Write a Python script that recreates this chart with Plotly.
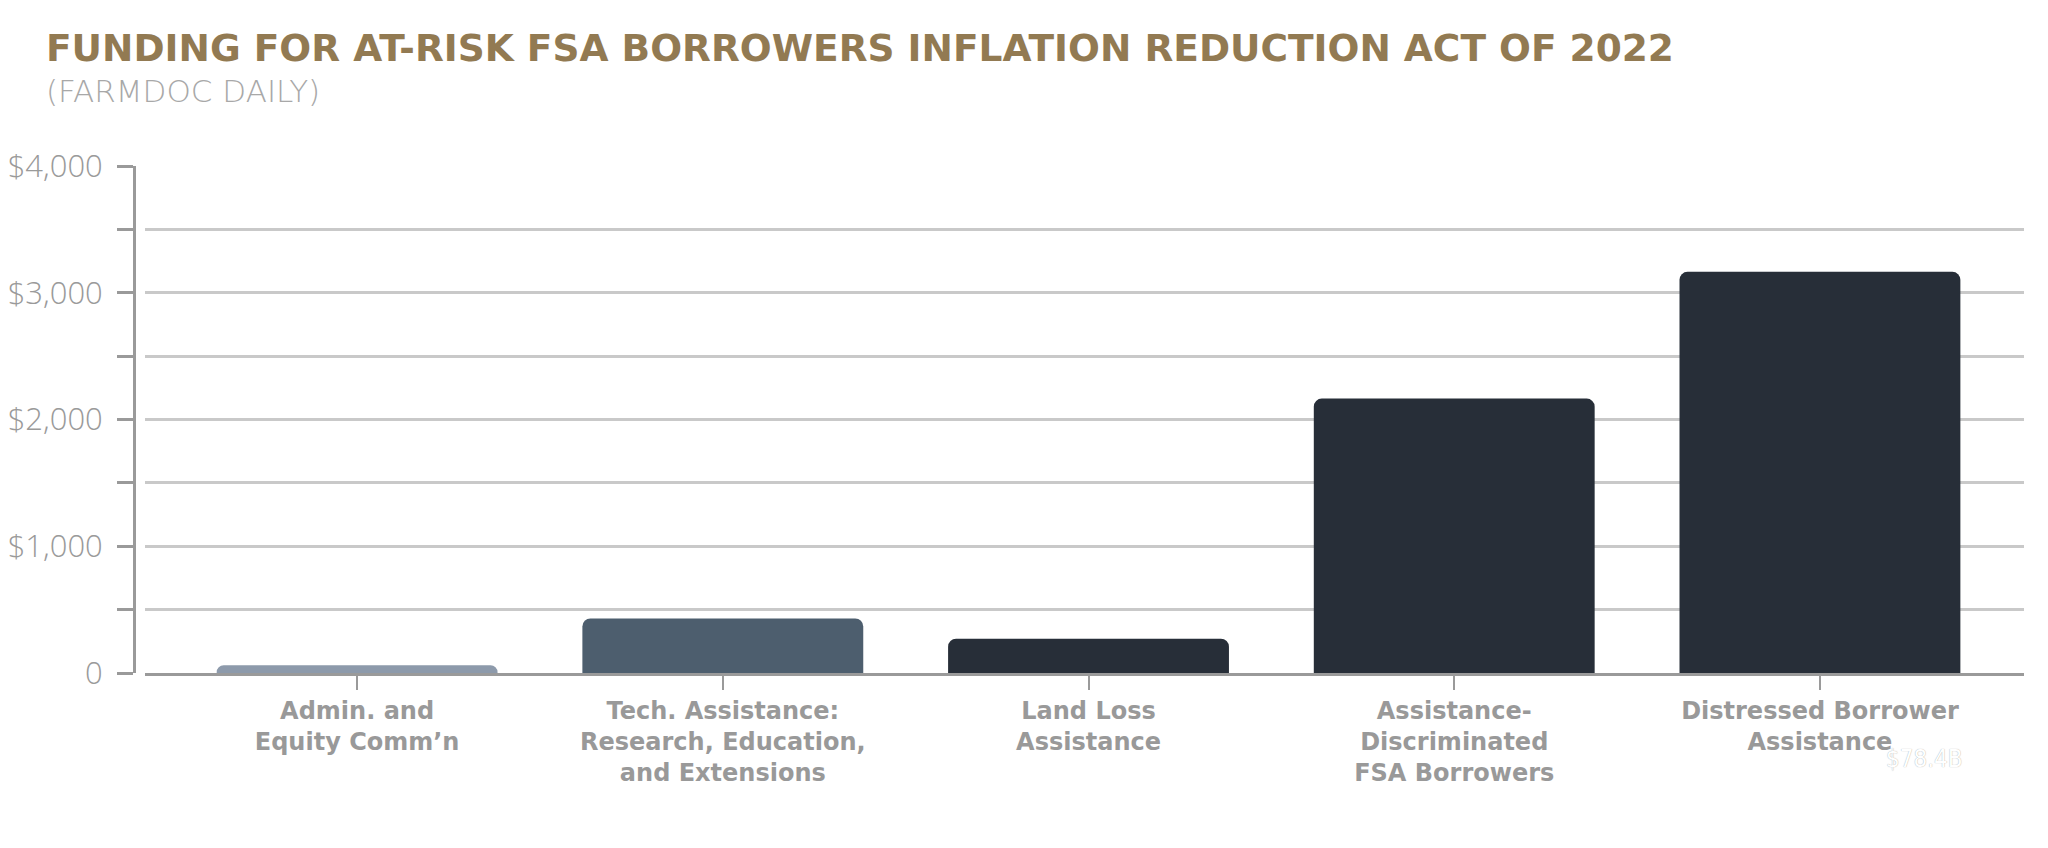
import plotly.graph_objects as go

categories = [
    "Admin. and<br>Equity Comm’n",
    "Tech. Assistance:<br>Research, Education,<br>and Extensions",
    "Land Loss<br>Assistance",
    "Assistance-<br>Discriminated<br>FSA Borrowers",
    "Distressed Borrower<br>Assistance",
]
values = [62, 430, 270, 2165, 3165]
bar_colors = ["#8d9aab", "#4d5e6e", "#272e38", "#272e38", "#272e38"]
y_tickvals = [0, 1000, 2000, 3000, 4000]
y_ticktext = ["0", "$1,000", "$2,000", "$3,000", "$4,000"]

W, H = 2048, 848

fig = go.Figure()
fig.add_trace(go.Bar(
    x=list(range(len(categories))), y=values,
    marker=dict(color=bar_colors, line=dict(width=0)),
    width=0.768, showlegend=False, hoverinfo="skip",
))
fig.add_trace(go.Scatter(
    x=list(range(len(categories))), y=values, yaxis="y2",
    mode="none", showlegend=False, hoverinfo="skip",
))

grey = "#9a9a9a"
fig.update_layout(
    width=W, height=H,
    margin=dict(l=0, r=0, t=0, b=0, autoexpand=False),
    paper_bgcolor="white", plot_bgcolor="white",
    barcornerradius=8,
    xaxis=dict(
        domain=[145 / W, 2024 / W],
        range=[-0.58, 4.558],
        automargin=False,
        tickmode="array",
        tickvals=list(range(len(categories))),
        ticktext=categories,
        showgrid=False, zeroline=False,
        showline=True, linecolor=grey, linewidth=3,
        ticks="outside", ticklen=14, tickwidth=2, tickcolor=grey,
        ticklabelstandoff=0,
        tickfont=dict(family="DejaVu Sans", size=24, color="#999999", weight=700),
    ),
    yaxis=dict(
        domain=[1 - 673 / H, 1 - 166 / H],
        range=[0, 4000],
        automargin=False,
        dtick=500, tick0=0,
        showgrid=True, gridcolor="#c9c9c9", gridwidth=2.5,
        zeroline=False, showline=False, showticklabels=False, ticks="",
    ),
    yaxis2=dict(
        overlaying="y", anchor="free", position=134 / W,
        range=[0, 4000],
        automargin=False,
        tickmode="array", tickvals=y_tickvals, ticktext=y_ticktext,
        showgrid=False, zeroline=False,
        showline=True, linecolor=grey, linewidth=3,
        ticks="outside", ticklen=16, tickwidth=3, tickcolor=grey,
        minor=dict(dtick=500, tick0=0, ticks="outside", ticklen=16, tickwidth=3, tickcolor=grey),
        ticklabelstandoff=8,
        tickfont=dict(family="Open Sans", size=31, color="#9a9a9a", weight=300),
    ),
    annotations=[
        dict(
            text="FUNDING FOR AT-RISK FSA BORROWERS INFLATION REDUCTION ACT OF 2022",
            xref="paper", yref="paper", x=44 / W, y=1 - 48 / H,
            xanchor="left", yanchor="middle", showarrow=False,
            font=dict(family="DejaVu Sans", size=37.5, color="#927a52", weight=700),
        ),
        dict(
            text="(FARMDOC DAILY)",
            xref="paper", yref="paper", x=44 / W, y=1 - 91 / H,
            xanchor="left", yanchor="middle", showarrow=False,
            font=dict(family="DejaVu Sans", size=31, color="#a8a8a8", weight=200),
        ),
        dict(
            text="$78.4B",
            xref="paper", yref="paper", x=1924 / W, y=1 - 759 / H,
            xanchor="center", yanchor="middle", showarrow=False,
            font=dict(family="Liberation Sans Narrow, DejaVu Sans Condensed", size=24,
                      color="#ffffff", shadow="0px 0px 1px #9a9a9a"),
        ),
    ],
)

fig.write_html("out.html")
